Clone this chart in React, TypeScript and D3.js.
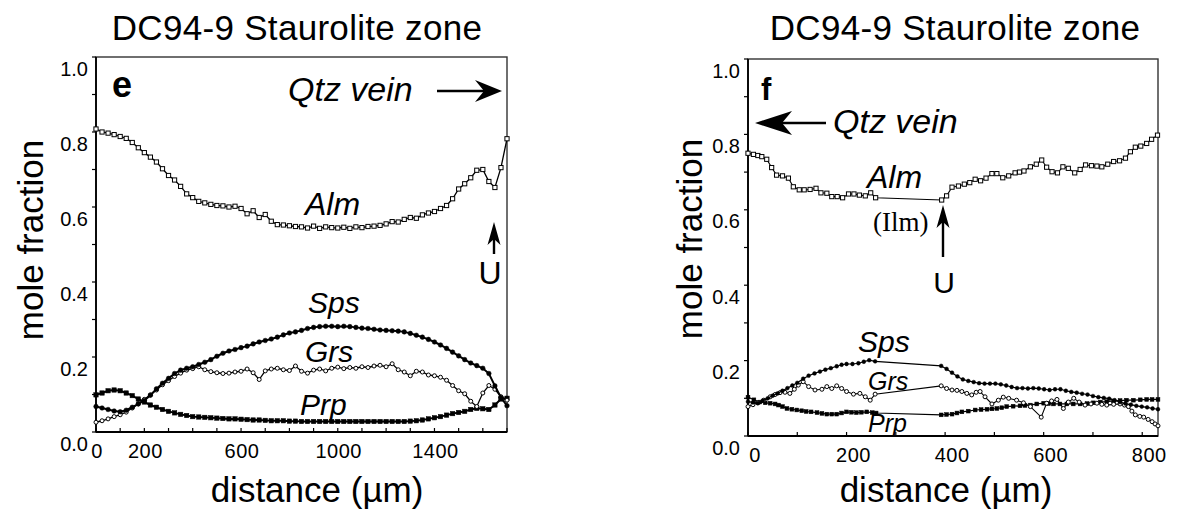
import React from 'react';
import * as d3 from 'd3';

// ---------- Panel e data (distance in µm, mole fraction) ----------
const E_DIST = [0,25,50,75,100,125,150,175,200,225,250,275,300,325,350,375,400,425,450,475,500,525,550,575,600,625,650,675,700,725,750,775,800,825,850,875,900,925,950,975,1000,1025,1050,1075,1100,1125,1150,1175,1200,1225,1250,1275,1300,1325,1350,1375,1400,1425,1450,1475,1500,1525,1550,1575,1600,1625,1650,1675,1700];
const E_ALM = [0.808,0.800,0.797,0.793,0.788,0.783,0.772,0.758,0.745,0.733,0.720,0.702,0.684,0.672,0.655,0.635,0.625,0.615,0.611,0.607,0.604,0.603,0.600,0.602,0.596,0.582,0.590,0.572,0.580,0.562,0.553,0.552,0.550,0.548,0.547,0.544,0.549,0.543,0.547,0.545,0.544,0.546,0.543,0.547,0.545,0.548,0.549,0.551,0.555,0.561,0.560,0.567,0.572,0.570,0.579,0.584,0.588,0.596,0.604,0.622,0.648,0.662,0.678,0.698,0.700,0.668,0.652,0.705,0.782];
const E_SPS = [0.068,0.064,0.060,0.056,0.054,0.058,0.066,0.075,0.084,0.098,0.115,0.130,0.143,0.156,0.165,0.170,0.174,0.180,0.186,0.193,0.202,0.210,0.216,0.220,0.225,0.229,0.235,0.240,0.244,0.248,0.253,0.259,0.264,0.267,0.271,0.276,0.279,0.281,0.282,0.282,0.281,0.282,0.281,0.279,0.277,0.276,0.274,0.272,0.271,0.270,0.269,0.267,0.263,0.258,0.253,0.247,0.240,0.232,0.223,0.213,0.203,0.193,0.184,0.177,0.170,0.156,0.123,0.092,0.070];
const E_GRS = [0.026,0.030,0.035,0.041,0.046,0.053,0.064,0.075,0.087,0.099,0.112,0.126,0.137,0.148,0.157,0.165,0.169,0.174,0.166,0.161,0.158,0.156,0.157,0.160,0.162,0.168,0.158,0.140,0.163,0.168,0.170,0.166,0.164,0.176,0.162,0.157,0.165,0.168,0.163,0.170,0.173,0.169,0.172,0.170,0.174,0.172,0.176,0.178,0.174,0.182,0.166,0.160,0.150,0.162,0.160,0.152,0.150,0.146,0.138,0.124,0.110,0.102,0.082,0.068,0.104,0.124,0.114,0.094,0.085];
const E_PRP = [0.099,0.104,0.110,0.112,0.110,0.104,0.097,0.088,0.080,0.072,0.066,0.060,0.055,0.051,0.047,0.044,0.041,0.040,0.039,0.038,0.037,0.036,0.035,0.035,0.034,0.033,0.032,0.032,0.031,0.030,0.030,0.030,0.029,0.029,0.028,0.028,0.028,0.028,0.028,0.028,0.028,0.028,0.028,0.028,0.028,0.028,0.028,0.028,0.028,0.028,0.028,0.028,0.029,0.030,0.032,0.035,0.038,0.041,0.045,0.049,0.052,0.055,0.060,0.063,0.062,0.060,0.072,0.088,0.090];

// ---------- Panel f data ([distance µm, mole fraction]) ----------
type Pt = [number, number];
const F_ALM: Pt[] = [[0,0.750],[11,0.747],[20,0.744],[28,0.741],[38,0.734],[48,0.712],[58,0.692],[70,0.690],[82,0.684],[92,0.661],[104,0.653],[114,0.653],[126,0.654],[138,0.657],[148,0.645],[160,0.644],[170,0.635],[181,0.635],[192,0.632],[204,0.642],[215,0.642],[226,0.639],[238,0.637],[249,0.645],[259,0.632],
  [393,0.626],[403,0.637],[414,0.660],[427,0.663],[439,0.668],[450,0.672],[461,0.681],[472,0.677],[483,0.684],[495,0.696],[505,0.696],[517,0.685],[529,0.690],[542,0.698],[551,0.700],[560,0.703],[573,0.714],[585,0.721],[596,0.732],[606,0.713],[617,0.701],[628,0.698],[639,0.714],[650,0.710],[663,0.698],[674,0.707],[685,0.719],[697,0.717],[708,0.716],[718,0.714],[730,0.721],[742,0.728],[754,0.730],[766,0.737],[776,0.754],[786,0.766],[797,0.769],[809,0.776],[819,0.787],[831,0.798]];
const F_SPS: Pt[] = [[0,0.091],[10,0.089],[20,0.087],[30,0.094],[40,0.100],[50,0.107],[60,0.113],[70,0.120],[80,0.127],[90,0.134],[100,0.141],[112,0.152],[123,0.160],[135,0.166],[146,0.171],[157,0.176],[168,0.180],[180,0.185],[190,0.189],[200,0.191],[212,0.191],[224,0.193],[235,0.197],[246,0.201],[258,0.198],
  [392,0.186],[403,0.178],[414,0.168],[425,0.158],[436,0.150],[447,0.146],[458,0.143],[469,0.140],[480,0.139],[491,0.139],[502,0.139],[513,0.137],[524,0.134],[535,0.130],[546,0.127],[557,0.127],[568,0.126],[579,0.127],[590,0.126],[601,0.124],[612,0.122],[623,0.124],[634,0.124],[645,0.120],[656,0.117],[667,0.115],[678,0.112],[689,0.110],[700,0.106],[711,0.103],[722,0.101],[733,0.099],[744,0.095],[755,0.090],[766,0.086],[777,0.083],[788,0.080],[799,0.078],[810,0.076],[821,0.073],[832,0.071]];
const F_GRS: Pt[] = [[0,0.078],[10,0.083],[20,0.088],[32,0.095],[45,0.104],[55,0.110],[65,0.115],[75,0.116],[85,0.113],[94,0.124],[102,0.135],[112,0.144],[123,0.131],[136,0.122],[150,0.124],[160,0.131],[170,0.126],[180,0.133],[190,0.126],[200,0.118],[214,0.111],[227,0.113],[238,0.104],[248,0.095],[258,0.111],
  [392,0.133],[403,0.126],[414,0.122],[424,0.121],[434,0.118],[444,0.113],[454,0.109],[463,0.116],[471,0.118],[481,0.104],[495,0.085],[508,0.095],[518,0.103],[529,0.100],[545,0.095],[559,0.088],[573,0.078],[595,0.050],[606,0.087],[616,0.093],[627,0.097],[640,0.073],[650,0.090],[661,0.100],[672,0.090],[684,0.082],[696,0.085],[708,0.087],[718,0.084],[728,0.082],[742,0.084],[755,0.085],[764,0.082],[772,0.078],[779,0.066],[786,0.056],[795,0.052],[803,0.050],[812,0.044],[820,0.038],[826,0.032],[832,0.027]];
const F_PRP: Pt[] = [[0,0.103],[12,0.096],[24,0.090],[35,0.088],[45,0.087],[55,0.085],[62,0.082],[70,0.078],[79,0.073],[89,0.071],[99,0.069],[109,0.067],[118,0.065],[128,0.064],[140,0.062],[150,0.060],[160,0.058],[170,0.058],[180,0.058],[190,0.061],[200,0.064],[210,0.063],[220,0.062],[230,0.063],[241,0.064],[252,0.062],[260,0.061],
  [392,0.056],[403,0.057],[414,0.058],[424,0.061],[434,0.064],[447,0.066],[461,0.069],[473,0.070],[485,0.071],[495,0.072],[505,0.073],[515,0.075],[525,0.078],[538,0.079],[552,0.080],[562,0.081],[573,0.082],[586,0.085],[600,0.087],[610,0.086],[620,0.085],[633,0.085],[647,0.085],[660,0.085],[674,0.085],[688,0.086],[701,0.088],[715,0.090],[728,0.091],[742,0.093],[755,0.094],[768,0.095],[782,0.095],[796,0.096],[809,0.097],[820,0.097],[832,0.097]];

// ---------- Axes ----------
const Y_TICKS = [0,0.1,0.2,0.3,0.4,0.5,0.6,0.7,0.8,0.9,1.0];
const Y_LABELS = [0,0.2,0.4,0.6,0.8,1.0];
const E_X_TICKS = [0,100,200,300,400,500,600,700,800,900,1000,1100,1200,1300,1400,1500,1600,1700];
const E_X_LABELS = [0,200,600,1000,1400];
const F_X_TICKS = [0,100,200,300,400,500,600,700,800];
const F_X_LABELS = [0,200,400,600,800];

const TITLE = 'DC94-9 Staurolite zone';
const Y_TITLE = 'mole fraction';
const X_TITLE = 'distance (\u00b5m)';

const SANS = '"Liberation Sans", Arial, Helvetica, sans-serif';
const SERIF = '"Liberation Serif", "Times New Roman", serif';

type Kind = 'os' | 'fs' | 'oc' | 'fc';

function Markers({ pts, kind, size }: { pts: Pt[]; kind: Kind; size: number }) {
  return (
    <g>
      {pts.map(([x, y], i) => {
        if (kind === 'os' || kind === 'fs')
          return <rect key={i} x={x - size / 2} y={y - size / 2} width={size} height={size}
            fill={kind === 'os' ? '#fff' : '#000'} stroke="#000" strokeWidth={kind === 'os' ? 1 : 0.5} />;
        return <circle key={i} cx={x} cy={y} r={size / 2}
          fill={kind === 'oc' ? '#fff' : '#000'} stroke="#000" strokeWidth={kind === 'oc' ? 1 : 0.5} />;
      })}
    </g>
  );
}

function Series({ pts, kind, size, lw }: { pts: Pt[]; kind: Kind; size: number; lw: number }) {
  const line = d3.line<Pt>().x(d => d[0]).y(d => d[1]);
  return (
    <g>
      <path d={line(pts) || ''} fill="none" stroke="#000" strokeWidth={lw} />
      <Markers pts={pts} kind={kind} size={size} />
    </g>
  );
}

function Frame({ sx, sy, xTicks, xLabels, labelDx }: any) {
  const [x0, x1] = sx.range();
  const [y0, y1] = sy.range(); // y0 bottom, y1 top
  const fmt = d3.format('.1f');
  return (
    <g fontFamily={SANS}>
      <rect x={x0} y={y1} width={x1 - x0} height={y0 - y1} fill="none" stroke="#333" strokeWidth={1.4} />
      <line x1={x0} x2={x0} y1={y1} y2={y0} stroke="#000" strokeWidth={1.8} />
      <line x1={x0} x2={x1} y1={y0} y2={y0} stroke="#000" strokeWidth={1.8} />
      {Y_TICKS.map(t => (
        <line key={'yt' + t} x1={x0 - 4} x2={x0} y1={sy(t)} y2={sy(t)} stroke="#000" strokeWidth={1.2} />
      ))}
      {Y_LABELS.map(t => (
        <text key={'yl' + t} x={x0 - 8} y={sy(t) + 11.5} dy="0.35em" textAnchor="end" fontSize={20}>{fmt(t)}</text>
      ))}
      {xTicks.map((t: number) => (
        <line key={'xt' + t} x1={sx(t)} x2={sx(t)} y1={y0} y2={y0 - 4} stroke="#000" strokeWidth={1.2} />
      ))}
      {xLabels.map((t: number) => (
        <text key={'xl' + t} x={sx(t) + labelDx} y={y0 + 26} textAnchor="middle" fontSize={20} letterSpacing={0.5}>{t}</text>
      ))}
    </g>
  );
}

function UpArrow({ x, tip, end }: { x: number; tip: number; end: number }) {
  return (
    <g>
      <line x1={x} x2={x} y1={tip + 12} y2={end} stroke="#000" strokeWidth={2.4} />
      <path d={`M${x},${tip} L${x + 6.5},${tip + 23} L${x},${tip + 17} L${x - 6.5},${tip + 23} Z`} fill="#000" />
    </g>
  );
}

export default function App() {
  const xE = d3.scaleLinear().domain([0, 1700]).range([96, 507]);
  const yE = d3.scaleLinear().domain([0, 1]).range([432, 57]);
  const xF = d3.scaleLinear().domain([0, 832]).range([748, 1158]);
  const yF = d3.scaleLinear().domain([0, 1]).range([436, 59]);

  const ePts = (vals: number[]): Pt[] => E_DIST.map((d, i) => [xE(d), yE(vals[i])]);
  const fPts = (vals: Pt[]): Pt[] => vals.map(([d, v]) => [xF(d), yF(v)]);

  return (
    <svg width={1178} height={516} viewBox="0 0 1178 516"
      style={{ position: 'absolute', left: 0, top: 0, background: '#fff' }}>
      <rect x={0} y={0} width={1178} height={516} fill="#fff" />

      {/* ---------- Panel e ---------- */}
      <text x={297} y={40} textAnchor="middle" fontFamily={SANS} fontSize={35} letterSpacing={0.3}>{TITLE}</text>
      <Frame sx={xE} sy={yE} xTicks={E_X_TICKS} xLabels={E_X_LABELS} labelDx={1} />
      <text transform="translate(43,240) rotate(-90)" textAnchor="middle" fontFamily={SANS} fontSize={35}>{Y_TITLE}</text>
      <text x={317} y={502} textAnchor="middle" fontFamily={SANS} fontSize={35}>{X_TITLE}</text>

      <Series pts={ePts(E_PRP)} kind="fs" size={4.4} lw={2} />
      <Series pts={ePts(E_GRS)} kind="oc" size={4} lw={1.3} />
      <Series pts={ePts(E_SPS)} kind="fc" size={4.6} lw={2} />
      <Series pts={ePts(E_ALM)} kind="os" size={4.2} lw={1.3} />

      <g fontFamily={SANS}>
        <text x={112} y={97} fontSize={36} fontWeight="bold">e</text>
        <text x={288} y={101} fontSize={34} fontStyle="italic">Qtz vein</text>
        <line x1={437} x2={486} y1={91} y2={91} stroke="#000" strokeWidth={2.4} />
        <path d="M502,91 L475,80 L484,91 L475,102 Z" fill="#000" />
        <text x={305} y={215} fontSize={32} fontStyle="italic">Alm</text>
        <UpArrow x={494} tip={222} end={254} />
        <text x={490} y={284} textAnchor="middle" fontSize={32}>U</text>
        <text x={308} y={313} fontSize={30} fontStyle="italic">Sps</text>
        <text x={305} y={362} fontSize={30} fontStyle="italic">Grs</text>
        <text x={300} y={415} fontSize={30} fontStyle="italic">Prp</text>
      </g>

      {/* ---------- Panel f ---------- */}
      <text x={955} y={40} textAnchor="middle" fontFamily={SANS} fontSize={35} letterSpacing={0.3}>{TITLE}</text>
      <Frame sx={xF} sy={yF} xTicks={F_X_TICKS} xLabels={F_X_LABELS} labelDx={7} />
      <text transform="translate(702,239) rotate(-90)" textAnchor="middle" fontFamily={SANS} fontSize={35}>{Y_TITLE}</text>
      <text x={946} y={502} textAnchor="middle" fontFamily={SANS} fontSize={35}>{X_TITLE}</text>

      <Series pts={fPts(F_PRP)} kind="fs" size={3.8} lw={1.2} />
      <Series pts={fPts(F_GRS)} kind="oc" size={4} lw={1.1} />
      <Series pts={fPts(F_SPS)} kind="fc" size={3.8} lw={1.2} />
      <Series pts={fPts(F_ALM)} kind="os" size={4.2} lw={1.1} />

      <g fontFamily={SANS}>
        <text x={761} y={100} fontSize={31} fontWeight="bold">f</text>
        <path d="M755,123 L792,111 L782,123 L792,135 Z" fill="#000" />
        <line x1={782} x2={826} y1={123} y2={123} stroke="#000" strokeWidth={2.6} />
        <text x={833} y={133} fontSize={34} fontStyle="italic">Qtz vein</text>
        <text x={867} y={188} fontSize={32} fontStyle="italic">Alm</text>
        <text x={873} y={231} fontSize={27} fontFamily={SERIF}>(Ilm)</text>
        <UpArrow x={943} tip={205} end={257} />
        <text x={944} y={293} textAnchor="middle" fontSize={30}>U</text>
        <text x={858} y={352} fontSize={30} fontStyle="italic">Sps</text>
        <text x={868} y={390} fontSize={25} fontStyle="italic">Grs</text>
        <text x={868} y={432} fontSize={25} fontStyle="italic">Prp</text>
      </g>
    </svg>
  );
}
